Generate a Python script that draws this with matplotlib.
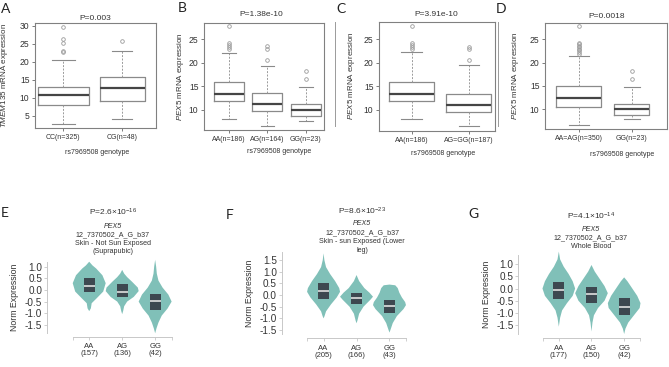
import numpy as np
import matplotlib
matplotlib.use("Agg")
import matplotlib.pyplot as plt
from matplotlib.lines import Line2D

plt.rcParams["font.family"] = ["Liberation Sans", "DejaVu Sans"]
plt.rcParams["mathtext.fontset"] = "custom"
plt.rcParams["mathtext.rm"] = "Liberation Sans"
plt.rcParams["mathtext.it"] = "Liberation Sans:italic"

W, H = 669, 367

# ---- box plot panels ----
a_labels = ["CC(n=325)", "CG(n=48)"]
a_whislo = [2.8, 4.2]
a_q1 = [8.05, 9.2]
a_med = [10.8, 12.6]
a_q3 = [13.0, 15.9]
a_whishi = [20.6, 23.1]
a_fliers = [[29.8, 26.4, 25.2, 23.1, 22.6], [25.9]]

b_labels = ["AA(n=186)", "AG(n=164)", "GG(n=23)"]
b_whislo = [8.1, 6.6, 7.7]
b_q1 = [11.85, 9.8, 8.7]
b_med = [13.4, 11.35, 9.9]
b_q3 = [16.0, 13.7, 11.2]
b_whishi = [22.1, 19.3, 14.9]
b_fliers = [[27.7, 24.2, 23.7, 23.3, 22.95], [23.5, 22.9, 20.5], [18.3, 16.5]]

c_labels = ["AA(n=186)", "AG=GG(n=187)"]
c_whislo = [8.1, 6.5]
c_q1 = [11.8, 9.5]
c_med = [13.4, 11.0]
c_q3 = [16.0, 13.4]
c_whishi = [22.2, 19.5]
c_fliers = [[27.7, 24.2, 23.7, 23.3, 22.95], [23.4, 22.9, 20.6]]

d_labels = ["AA=AG(n=350)", "GG(n=23)"]
d_whislo = [6.6, 7.85]
d_q1 = [10.4, 8.7]
d_med = [12.4, 10.0]
d_q3 = [15.0, 11.1]
d_whishi = [21.4, 14.8]
d_fliers = [[27.8, 24.1, 23.9, 23.6, 23.3, 23.0, 22.7, 22.3, 21.9], [18.2, 16.5]]

# ---- violin panels: profile heights and relative widths ----
e_labels = ["AA\n(157)", "AG\n(136)", "GG\n(42)"]
e_prof_y = [[1.21, 1.05, 0.92, 0.63, 0.29, -0.07, -0.36, -0.57, -0.79, -0.91],
            [0.86, 0.7, 0.55, 0.35, 0.1, -0.05, -0.3, -0.5, -0.7, -0.9, -1.04],
            [1.29, 1.0, 0.7, 0.4, 0.1, -0.2, -0.5, -0.8, -1.1, -1.4, -1.65, -1.86]]
e_prof_w = [[0.0, 0.2, 0.42, 0.8, 1.0, 0.85, 0.45, 0.15, 0.1, 0.0],
            [0.0, 0.12, 0.3, 0.6, 0.95, 1.0, 0.7, 0.3, 0.12, 0.06, 0.0],
            [0.0, 0.06, 0.1, 0.2, 0.45, 0.8, 1.0, 0.75, 0.4, 0.2, 0.08, 0.0]]
e_q1 = [-0.10, -0.29, -0.86]
e_med = [0.18, -0.07, -0.47]
e_q3 = [0.50, 0.24, -0.17]

f_labels = ["AA\n(205)", "AG\n(166)", "GG\n(43)"]
f_prof_y = [[1.79, 1.5, 1.2, 0.9, 0.6, 0.3, 0.14, -0.1, -0.4, -0.7, -0.9, -1.0],
            [0.86, 0.6, 0.3, 0.1, -0.07, -0.2, -0.5, -0.8, -1.1, -1.21],
            [0.45, 0.42, 0.3, 0.1, -0.1, -0.3, -0.43, -0.6, -0.9, -1.2, -1.45, -1.61]]
f_prof_w = [[0.0, 0.05, 0.15, 0.4, 0.7, 0.95, 1.0, 0.8, 0.45, 0.15, 0.06, 0.0],
            [0.0, 0.15, 0.45, 0.75, 0.95, 0.8, 0.4, 0.15, 0.05, 0.0],
            [0.0, 0.35, 0.5, 0.6, 0.75, 0.95, 1.0, 0.85, 0.45, 0.2, 0.08, 0.0]]
f_q1 = [-0.17, -0.39, -0.79]
f_med = [0.18, -0.14, -0.47]
f_q3 = [0.50, 0.10, -0.21]

g_labels = ["AA\n(177)", "AG\n(150)", "GG\n(42)"]
g_prof_y = [[1.52, 1.2, 0.9, 0.6, 0.3, 0.0, -0.3, -0.6, -0.9, -1.2, -1.57],
            [0.97, 0.7, 0.4, 0.1, -0.19, -0.5, -0.8, -1.1, -1.4, -1.77],
            [0.46, 0.3, 0.0, -0.3, -0.6, -0.8, -1.1, -1.4, -1.65, -1.87]]
g_prof_w = [[0.0, 0.08, 0.3, 0.6, 0.85, 1.0, 0.85, 0.5, 0.2, 0.08, 0.0],
            [0.0, 0.2, 0.5, 0.8, 1.0, 0.8, 0.4, 0.15, 0.06, 0.0],
            [0.0, 0.2, 0.5, 0.8, 1.0, 0.95, 0.6, 0.25, 0.08, 0.0]]
g_q1 = [-0.44, -0.58, -1.09]
g_med = [-0.06, -0.24, -0.74]
g_q3 = [0.28, 0.08, -0.40]

fig = plt.figure(figsize=(W / 100, H / 100), dpi=100)


def px_axes(l, t, r, b):
    return fig.add_axes([l / W, 1 - b / H, (r - l) / W, (b - t) / H])


def ftext(x, y, s, **kw):
    fig.text(x / W, 1 - y / H, s, ha="center", va="center", **kw)


def box_panel(rect, labels, whislo, q1, med, q3, whishi, fliers, widths, xlim, ylim,
              yticks, ylabel, xlab_xy, ylab_x):
    ax = px_axes(*rect)
    stats = []
    for i in range(len(labels)):
        stats.append(dict(whislo=whislo[i], q1=q1[i], med=med[i], q3=q3[i],
                          whishi=whishi[i], fliers=np.array(fliers[i])))
    pos = list(range(1, len(labels) + 1))
    ax.bxp(stats, positions=pos, widths=widths, capwidths=[w * 0.45 for w in widths],
           boxprops=dict(color="#8a8a8a", lw=0.9),
           medianprops=dict(color="#454545", lw=1.6),
           whiskerprops=dict(color="#9a9a9a", lw=0.7, linestyle=(0, (2, 1.5))),
           capprops=dict(color="#8a8a8a", lw=0.8),
           flierprops=dict(marker="o", markersize=2.6, markerfacecolor="none",
                           markeredgecolor="#9a9a9a", markeredgewidth=0.6))
    ax.set_xlim(*xlim)
    ax.set_ylim(*ylim)
    ax.set_xticks(pos, labels)
    ax.set_yticks(yticks)
    for sp in ax.spines.values():
        sp.set_color("#808080")
        sp.set_linewidth(0.8)
    ax.tick_params(axis="y", length=2.5, width=0.6, color="#666666", labelsize=6.2,
                   labelcolor="#333333", pad=1.5)
    ax.tick_params(axis="x", length=2.5, width=0.6, color="#666666", labelsize=5,
                   labelcolor="#333333", pad=2)
    ax.set_xlabel("rs7969508 genotype", fontsize=5, color="#333333")
    ax.xaxis.set_label_coords(*xlab_xy)
    ax.set_ylabel(ylabel, fontsize=5.8, color="#333333")
    ax.yaxis.set_label_coords(ylab_x, 0.5)
    return ax


def violin_panel(rect, labels, prof_y, prof_w, q1, med, q3, xlim, ylim, yticks, spine_lo, out_pt):
    ax = px_axes(*rect)
    stats = []
    for i in range(len(labels)):
        ys = np.array(prof_y[i])
        stats.append(dict(coords=ys, vals=np.array(prof_w[i]), mean=med[i],
                          median=med[i], min=ys.min(), max=ys.max()))
    pos = list(range(len(labels)))
    parts = ax.violin(stats, positions=pos, widths=1.0, showextrema=False)
    for body in parts["bodies"]:
        body.set_facecolor("#80c0b8")
        body.set_edgecolor("none")
        body.set_alpha(1)
        body.set_clip_on(False)
    q1a, q3a = np.array(q1), np.array(q3)
    ax.bar(pos, q3a - q1a, bottom=q1a, width=0.33, color="#3d4850", zorder=3)
    ax.hlines(med, [p - 0.165 for p in pos], [p + 0.165 for p in pos],
              color="#e0e0e0", lw=1.2, zorder=4)
    ax.set_xlim(*xlim)
    ax.set_ylim(*ylim)
    ax.set_yticks(yticks, [f"{v:.1f}" for v in yticks])
    ax.set_xticks(pos, labels)
    ax.set_xticks([spine_lo, 2.5], minor=True)
    for s in ("top", "right"):
        ax.spines[s].set_visible(False)
    ax.spines["left"].set_color("#c8c8c8")
    ax.spines["bottom"].set_color("#c8c8c8")
    ax.spines["left"].set_linewidth(0.7)
    ax.spines["bottom"].set_linewidth(0.7)
    ax.spines["bottom"].set_position(("outward", out_pt))
    ax.spines["bottom"].set_bounds(spine_lo, 2.5)
    ax.tick_params(axis="y", length=2.5, width=0.6, color="#c8c8c8", labelsize=7.2,
                   labelcolor="#333333", pad=1)
    ax.tick_params(axis="x", which="both", length=2.5, width=0.6, color="#c8c8c8",
                   labelsize=5.5, labelcolor="#333333", pad=2)
    for t in ax.get_xticklabels():
        t.set_linespacing(1.0)
    ax.set_ylabel("Norm Expression", fontsize=6.3, color="#333333")
    return ax


# ---- top row ----
axA = box_panel((35, 23, 156, 128), a_labels, a_whislo, a_q1, a_med, a_q3, a_whishi, a_fliers,
                [0.86, 0.76], (0.52, 2.57), (1.6, 30.8), [5, 10, 15, 20, 25, 30],
                r"$\it{TMEM135}$ mRNA expression", (0.51, -0.2), -0.21)
axB = box_panel((204, 22.7, 324, 130), b_labels, b_whislo, b_q1, b_med, b_q3, b_whishi, b_fliers,
                [0.78, 0.78, 0.78], (0.35, 3.47), (5.75, 28.5), [10, 15, 20, 25],
                r"$\it{PEX5}$ mRNA expression", (0.63, -0.17), -0.15)
axC = box_panel((379, 21.7, 495, 130.7), c_labels, c_whislo, c_q1, c_med, c_q3, c_whishi, c_fliers,
                [0.79, 0.79], (0.43, 2.46), (5.6, 28.7), [10, 15, 20, 25],
                r"$\it{PEX5}$ mRNA expression", (0.55, -0.18), -0.19)
axD = box_panel((545, 23.3, 667, 129), d_labels, d_whislo, d_q1, d_med, d_q3, d_whishi, d_fliers,
                [0.85, 0.66], (0.36, 2.66), (5.8, 28.4), [10, 15, 20, 25],
                r"$\it{PEX5}$ mRNA expression", (0.63, -0.21), -0.2)

ftext(95, 18, "P=0.003", fontsize=6, color="#333333")
ftext(261, 15, "P=1.38e-10", fontsize=6, color="#333333")
ftext(436, 15, "P=3.91e-10", fontsize=6, color="#333333")
ftext(607, 16.7, "P=0.0018", fontsize=6, color="#333333")

# ---- bottom row ----
violin_panel((47, 261.7, 200, 333.3), e_labels, e_prof_y, e_prof_w, e_q1, e_med, e_q3,
             (-1.28, 3.36), (-1.86, 1.21), [1.0, 0.5, 0.0, -0.5, -1.0, -1.5], -0.5, 2.5)
violin_panel((281.7, 251.7, 432, 334), f_labels, f_prof_y, f_prof_w, f_q1, f_med, f_q3,
             (-1.27, 3.29), (-1.67, 1.86), [1.5, 1.0, 0.5, 0.0, -0.5, -1.0, -1.5], -0.5, 3.1)
violin_panel((518.3, 255, 665, 334), g_labels, g_prof_y, g_prof_w, g_q1, g_med, g_q3,
             (-1.24, 3.25), (-1.87, 1.38), [1.0, 0.5, 0.0, -0.5, -1.0, -1.5], -0.47, 3.1)

sub = dict(fontsize=5.1, color="#333333")
ptxt = dict(fontsize=6, color="#333333")
ftext(113, 212, r"P=2.6$\times$10$^{-16}$", **ptxt)
ftext(113, 226, "PEX5", style="italic", **sub)
ftext(113, 234.5, "12_7370502_A_G_b37", **sub)
ftext(113, 243.3, "Skin - Not Sun Exposed", **sub)
ftext(113, 251.7, "(Suprapubic)", **sub)

ftext(362, 211.7, r"P=8.6$\times$10$^{-23}$", **ptxt)
ftext(362, 223.3, "PEX5", style="italic", **sub)
ftext(362, 232.7, "12_7370502_A_G_b37", **sub)
ftext(362, 241.7, "Skin - sun Exposed (Lower", **sub)
ftext(362, 250, "leg)", **sub)

ftext(591, 216.7, r"P=4.1$\times$10$^{-14}$", **ptxt)
ftext(591, 229.3, "PEX5", style="italic", **sub)
ftext(591, 237.7, "12_7370502_A_G_b37", **sub)
ftext(591, 246, "Whole Blood", **sub)

# panel letters
for letter, x, y in [("A", 5.5, 9), ("B", 182, 8), ("C", 341, 9), ("D", 501, 9),
                     ("E", 5, 213), ("F", 229.5, 215), ("G", 473, 214.5)]:
    ftext(x, y, letter, fontsize=10, color="#222222", family="Lato")

# thin crop edges visible in the original figure
for x in (335, 498):
    fig.add_artist(Line2D([x / W, x / W], [1 - 21.7 / H, 1 - 126 / H], color="#9a9a9a", lw=0.7))

fig.savefig("out.png", dpi=100)
